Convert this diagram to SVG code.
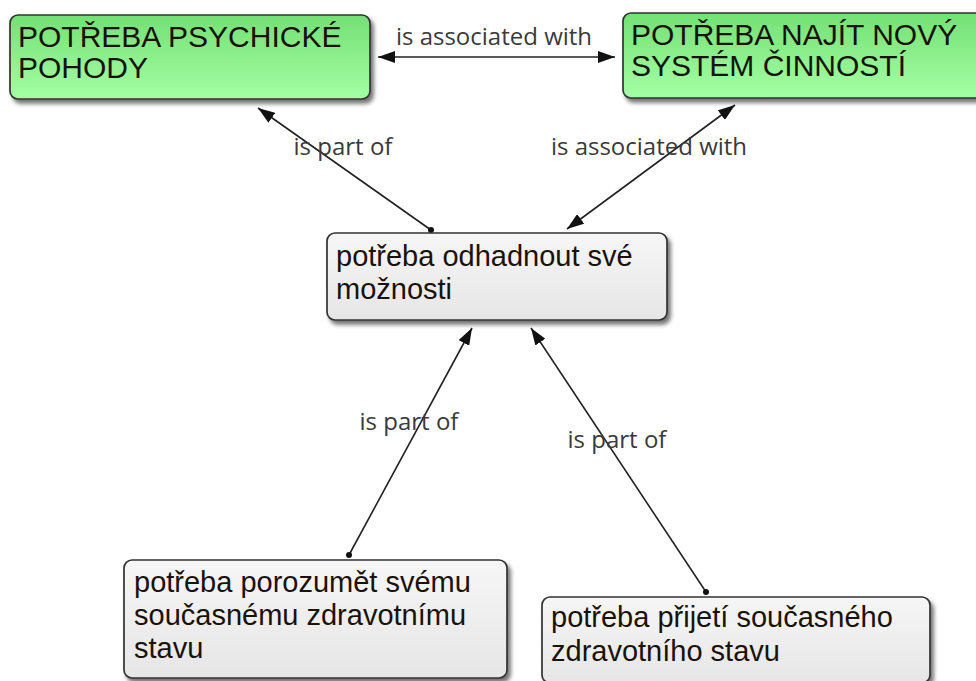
<svg xmlns="http://www.w3.org/2000/svg" width="976" height="681" viewBox="0 0 976 681">
  <style>
    .box { stroke: #333; stroke-width: 1.7; }
    .green { fill: url(#gGreen); }
    .grey { fill: url(#gGrey); }
    .txt { font-family: "Liberation Sans", Arial, sans-serif; font-size: 29px; fill: #1a1208; }
    .caps { font-size: 30px; }
    .lbl { font-family: "Open Sans", "DejaVu Sans", sans-serif; font-size: 24px; fill: #3a3a3a; }
    .edge { stroke: #222; stroke-width: 1.6; fill: none; }
    .dot { fill: #111; }
  </style>
  <defs>
    <linearGradient id="gGreen" x1="0" y1="0" x2="0" y2="1">
      <stop offset="0" stop-color="#74e074"/>
      <stop offset="1" stop-color="#a4ffa4"/>
    </linearGradient>
    <linearGradient id="gGrey" x1="0" y1="0" x2="0" y2="1">
      <stop offset="0" stop-color="#f6f6f6"/>
      <stop offset="1" stop-color="#e6e6e6"/>
    </linearGradient>
    <filter id="shadow" x="-10%" y="-10%" width="130%" height="140%">
      <feDropShadow dx="3" dy="4" stdDeviation="2" flood-color="#000" flood-opacity="0.55"/>
    </filter>
    <marker id="arrow" markerUnits="userSpaceOnUse" markerWidth="18" markerHeight="12" refX="17" refY="6" orient="auto-start-reverse">
      <path d="M0,0 L17,6 L0,12 z" fill="#111"/>
    </marker>
  </defs>

  <!-- connectors -->
  <g id="connectors">
    <line class="edge" x1="378" y1="57" x2="615" y2="57" marker-start="url(#arrow)" marker-end="url(#arrow)"/>
    <line class="edge" x1="431" y1="230" x2="258" y2="108" marker-end="url(#arrow)"/>
    <circle class="dot" cx="431" cy="230" r="3"/>
    <line class="edge" x1="567" y1="229" x2="735" y2="105" marker-start="url(#arrow)" marker-end="url(#arrow)"/>
    <line class="edge" x1="349" y1="555" x2="472" y2="328" marker-end="url(#arrow)"/>
    <circle class="dot" cx="349" cy="555" r="3"/>
    <line class="edge" x1="706" y1="592" x2="531" y2="328" marker-end="url(#arrow)"/>
    <circle class="dot" cx="706" cy="592" r="3"/>

    <text class="lbl" x="494" y="45" text-anchor="middle">is associated with</text>
    <text class="lbl" x="343" y="155" text-anchor="middle">is part of</text>
    <text class="lbl" x="649" y="155" text-anchor="middle">is associated with</text>
    <text class="lbl" x="409" y="430" text-anchor="middle">is part of</text>
    <text class="lbl" x="617" y="448" text-anchor="middle">is part of</text>
  </g>

  <g id="node-psychicke-pohody">
    <rect class="box green" x="10" y="15" width="360" height="84" rx="8" filter="url(#shadow)"/>
    <text class="txt caps" x="18" y="47">POTŘEBA PSYCHICKÉ</text>
    <text class="txt caps" x="18" y="78">POHODY</text>
  </g>

  <g id="node-novy-system">
    <rect class="box green" x="623" y="13" width="370" height="85" rx="8" filter="url(#shadow)"/>
    <text class="txt caps" x="631" y="45">POTŘEBA NAJÍT NOVÝ</text>
    <text class="txt caps" x="631" y="76">SYSTÉM ČINNOSTÍ</text>
  </g>

  <g id="node-odhadnout">
    <rect class="box grey" x="327" y="233" width="340" height="87" rx="8" filter="url(#shadow)"/>
    <text class="txt" x="336" y="266">potřeba odhadnout své</text>
    <text class="txt" x="336" y="299">možnosti</text>
  </g>

  <g id="node-porozumet">
    <rect class="box grey" x="124" y="560" width="383" height="118" rx="8" filter="url(#shadow)"/>
    <text class="txt" x="134" y="592">potřeba porozumět svému</text>
    <text class="txt" x="134" y="625">současnému zdravotnímu</text>
    <text class="txt" x="134" y="658">stavu</text>
  </g>

  <g id="node-prijeti">
    <rect class="box grey" x="542" y="597" width="388" height="86" rx="8" filter="url(#shadow)"/>
    <text class="txt" x="551" y="627">potřeba přijetí současného</text>
    <text class="txt" x="551" y="661">zdravotního stavu</text>
  </g>
</svg>
